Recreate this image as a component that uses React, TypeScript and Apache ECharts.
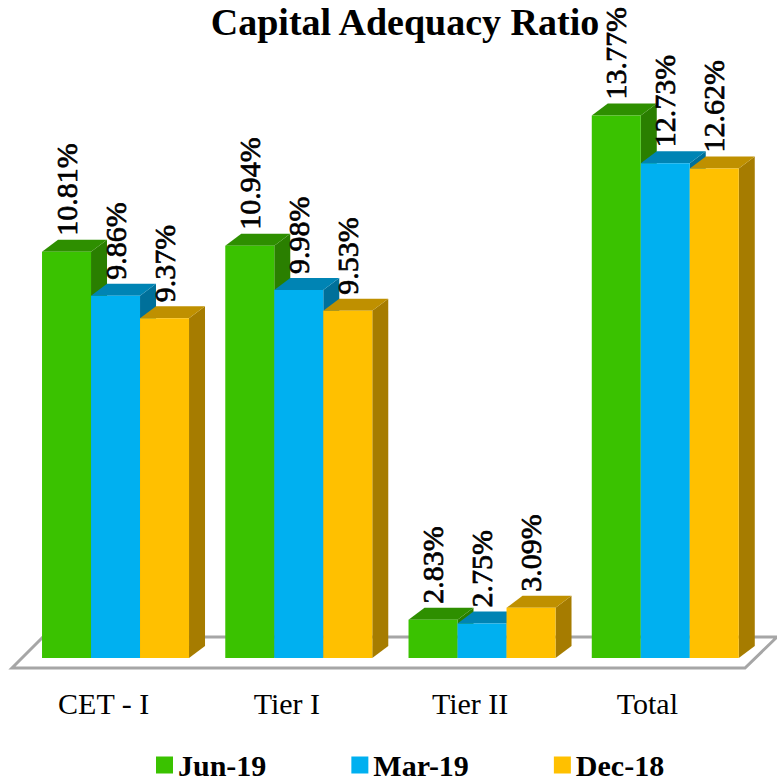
import React, { useEffect, useRef } from "react";
import * as echarts from "echarts";

const categories = ["CET - I", "Tier I", "Tier II", "Total"];
const jun19 = [10.81, 10.94, 2.83, 13.77];
const mar19 = [9.86, 9.98, 2.75, 12.73];
const dec18 = [9.37, 9.53, 3.09, 12.62];
const seriesNames = ["Jun-19", "Mar-19", "Dec-18"];
const serif = "'Liberation Serif', serif";

const palette = [
  { front: "#3AC200", top: "#2E8F00", side: "#2A7F00" },
  { front: "#00B0F0", top: "#0084B4", side: "#00709A" },
  { front: "#FFC000", top: "#BF9000", side: "#A67C00" },
];
const BAR_W = 49;
const DX = 16;
const DY = -12;

function makeRender(idx: number) {
  return (_params: any, api: any) => {
    const cat = api.value(0);
    const v = api.value(1);
    const topPt = api.coord([cat, v]);
    const basePt = api.coord([cat, 2]);
    const x = topPt[0] - 61.6 + idx * BAR_W;
    const y = topPt[1];
    const b = basePt[1];
    const c = palette[idx];
    const r = x + BAR_W;
    return {
      type: "group",
      children: [
        { type: "polygon", shape: { points: [[r, y], [r + DX, y + DY], [r + DX, b + DY], [r, b]] }, style: { fill: c.side } },
        { type: "polygon", shape: { points: [[x, y], [x + DX, y + DY], [r + DX, y + DY], [r, y]] }, style: { fill: c.top } },
        { type: "rect", shape: { x, y, width: BAR_W, height: b - y }, style: { fill: c.front } },
        {
          type: "text",
          x: x + 24,
          y: y - 16,
          rotation: Math.PI / 2,
          z2: 50,
          style: {
            text: v.toFixed(2) + "%",
            font: "500 30px " + serif,
            fill: "#000",
            stroke: "#000",
            lineWidth: 0.7,
            align: "left",
            verticalAlign: "middle",
          },
        },
      ],
    };
  };
}

function renderFloor(params: any) {
  const g = params.coordSys;
  const l = g.x;
  const r = g.x + g.width;
  const f = g.y + g.height + 10;
  const back = f - 31;
  return {
    type: "polygon",
    shape: { points: [[l, f], [r, f], [r + 32, back], [l + 31, back]] },
    style: { fill: "#fff", stroke: "#A6A6A6", lineWidth: 3 },
  };
}

export default function App() {
  const ref = useRef<HTMLDivElement>(null);
  useEffect(() => {
    const chart = echarts.init(ref.current!, null, { renderer: "svg" });
    const values = [jun19, mar19, dec18];
    chart.setOption({
      animation: false,
      backgroundColor: "#fff",
      title: {
        text: "Capital Adequacy Ratio",
        left: 400,
        top: -2,
        textAlign: "center",
        textStyle: { fontFamily: serif, fontSize: 38, fontWeight: "bold", color: "#000" },
      },
      legend: {
        data: seriesNames,
        left: 151,
        top: 745,
        icon: "rect",
        itemWidth: 17,
        itemHeight: 17,
        itemGap: 85,
        textStyle: { fontFamily: serif, fontSize: 30, fontWeight: "bold", color: "#000" },
      },
      grid: { left: 12, width: 733, top: 58.7, height: 599.3 },
      xAxis: {
        type: "category",
        data: categories.map((c) => (c === "Total" ? { value: c, textStyle: { padding: [0, 12, 0, 0] } } : c)),
        axisLine: { show: false },
        axisTick: { show: false },
        axisLabel: { margin: 30, fontFamily: serif, fontSize: 30, color: "#000" },
      },
      yAxis: { type: "value", min: 2, max: 15, show: false, splitLine: { show: false } },
      series: [
        {
          type: "custom",
          name: "floor",
          z: 1,
          silent: true,
          renderItem: renderFloor,
          data: [[0, 2]],
          encode: { x: 0, y: 1 },
          clip: false,
        },
        ...seriesNames.map((name, i) => ({
          type: "custom",
          name,
          z: 2 + i,
          itemStyle: { color: palette[i].front },
          renderItem: makeRender(i),
          data: values[i].map((v, k) => [k, v]),
          encode: { x: 0, y: 1 },
          clip: false,
        })),
      ],
    });
    return () => chart.dispose();
  }, []);
  return <div ref={ref} style={{ position: "absolute", left: 0, top: 0, width: 777, height: 780, overflow: "hidden" }} />;
}
